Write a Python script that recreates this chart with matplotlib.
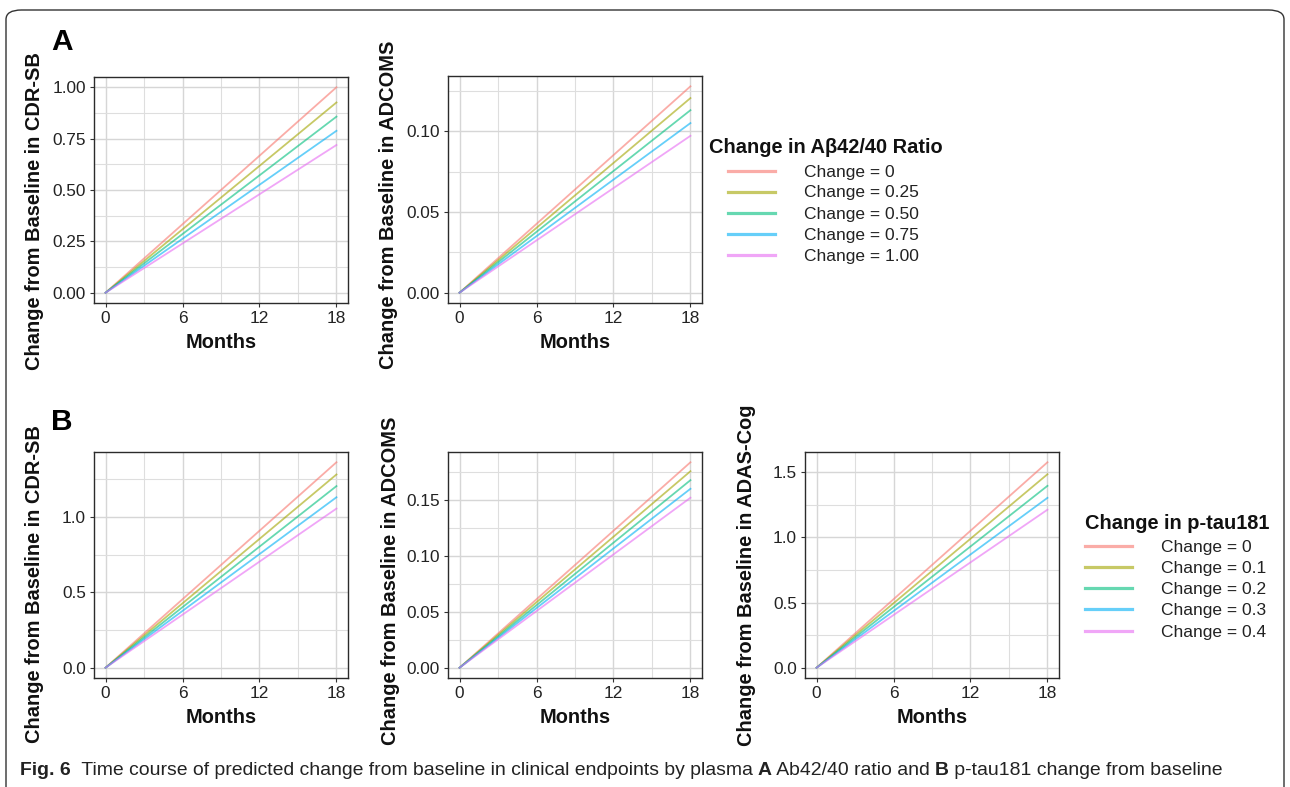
import matplotlib
matplotlib.use('Agg')
import matplotlib.pyplot as plt
from matplotlib.lines import Line2D
from matplotlib.patches import FancyBboxPatch
from matplotlib import font_manager

plt.rcParams['font.family'] = ['Liberation Sans', 'DejaVu Sans']

# ---------------- data ----------------
months = [0, 18]
x_ticks = [0, 6, 12, 18]
ab_labels = ['Change = 0', 'Change = 0.25', 'Change = 0.50', 'Change = 0.75', 'Change = 1.00']
ptau_labels = ['Change = 0', 'Change = 0.1', 'Change = 0.2', 'Change = 0.3', 'Change = 0.4']
# predicted change at month 18 (starts at 0 at month 0)
ab_cdrsb_18 = [1.000, 0.926, 0.857, 0.788, 0.719]
ab_adcoms_18 = [0.128, 0.1207, 0.1132, 0.1052, 0.0973]
pt_cdrsb_18 = [1.362, 1.281, 1.204, 1.130, 1.055]
pt_adcoms_18 = [0.1837, 0.1757, 0.1677, 0.1600, 0.1520]
pt_adascog_18 = [1.577, 1.485, 1.396, 1.304, 1.213]
colors = ['#F8766D', '#A3A500', '#00BF7D', '#00B0F6', '#E76BF3']

W, H = 1290, 787
fig = plt.figure(figsize=(W / 100, H / 100), dpi=100)
fig.patch.set_facecolor('white')

def fx(x):
    return x / W

def fy(y):
    return 1 - y / H

def panel(rect, endvals, yticks, yminor, fmt, ylabel, ylab_xy):
    x0, y0, x1, y1 = rect
    ax = fig.add_axes([fx(x0), fy(y1), (x1 - x0) / W, (y1 - y0) / H])
    for v, c in zip(endvals, colors):
        ax.plot(months, [0, v], color=c, alpha=0.6, lw=1.3, zorder=3)
    top = max(endvals)
    ax.set_xlim(-0.9, 18.9)
    ax.set_ylim(-0.05 * top, 1.05 * top)
    ax.set_xticks(x_ticks)
    ax.set_xticks([3, 9, 15], minor=True)
    ax.set_yticks(yticks)
    ax.set_yticks(yminor, minor=True)
    ax.set_yticklabels([fmt.format(t) for t in yticks])
    ax.grid(True, which='major', color='#D6D6D6', lw=1.0)
    ax.grid(True, which='minor', color='#DEDEDE', lw=0.8)
    ax.set_axisbelow(True)
    ax.tick_params(which='major', length=3.2, width=0.8, color='#333333',
                   labelsize=12.4, labelcolor='#222222')
    ax.tick_params(axis='x', which='major', pad=2.5)
    ax.tick_params(axis='y', which='major', pad=2.5)
    ax.tick_params(which='minor', length=0)
    for s in ax.spines.values():
        s.set_color('#2b2b2b')
        s.set_linewidth(1.0)
    ax.set_xlabel('Months', fontsize=14.4, fontweight='bold', labelpad=5.0, color='#111111')
    fig.text(fx(ylab_xy[0]), fy(ylab_xy[1]), ylabel, rotation=90, ha='center', va='center',
             fontsize=14.4, fontweight='bold', color='#111111')
    return ax

panel((94, 77, 348, 303), ab_cdrsb_18, [0, 0.25, 0.5, 0.75, 1.0],
      [0.125, 0.375, 0.625, 0.875], '{:.2f}', 'Change from Baseline in CDR-SB', (35, 211))
panel((448, 76, 702, 303), ab_adcoms_18, [0, 0.05, 0.10],
      [0.025, 0.075, 0.125], '{:.2f}', 'Change from Baseline in ADCOMS', (389, 205))
panel((94, 452, 348, 678), pt_cdrsb_18, [0, 0.5, 1.0],
      [0.25, 0.75, 1.25], '{:.1f}', 'Change from Baseline in CDR-SB', (35, 584))
panel((448, 452, 702, 678), pt_adcoms_18, [0, 0.05, 0.10, 0.15],
      [0.025, 0.075, 0.125, 0.175], '{:.2f}', 'Change from Baseline in ADCOMS', (390, 581))
panel((805, 452, 1059, 678), pt_adascog_18, [0, 0.5, 1.0, 1.5],
      [0.25, 0.75, 1.25], '{:.1f}', 'Change from Baseline in ADAS-Cog', (746, 575))

# panel letters
fig.text(fx(51), fy(50), 'A', fontsize=21.5, fontweight='bold', ha='left', va='baseline')
fig.text(fx(51), fy(430), 'B', fontsize=21.5, fontweight='bold', ha='left', va='baseline')

# legends
def legend(title, labels, title_xy, line_x0, line_x1, ys, text_x):
    fig.text(fx(title_xy[0]), fy(title_xy[1]), title, fontsize=14.4, fontweight='bold',
             ha='left', va='baseline', color='#111111')
    for lab, c, y in zip(labels, colors, ys):
        fig.add_artist(Line2D([fx(line_x0), fx(line_x1)], [fy(y), fy(y)], color=c, alpha=0.6,
                              lw=2.3, transform=fig.transFigure))
        fig.text(fx(text_x), fy(y + 6), lab, fontsize=12.5, ha='left', va='baseline', color='#222222')

legend('Change in Aβ42/40 Ratio', ab_labels, (709, 153), 728, 775,
       [170.5, 191.5, 212.5, 234, 255], 804)
legend('Change in p-tau181', ptau_labels, (1085, 529), 1085, 1132,
       [545.7, 567, 588.3, 609.3, 630.7], 1161)

# frame
frame = FancyBboxPatch((fx(6), fy(800)), fx(1284) - fx(6), fy(10) - fy(800),
                       boxstyle='round,pad=0,rounding_size=0.012', transform=fig.transFigure,
                       fill=False, edgecolor='#333333', lw=1.0)
fig.add_artist(frame)

# caption
cap_family = ['Liberation Sans Narrow', 'Liberation Sans', 'DejaVu Sans']
avail = {f.name for f in font_manager.fontManager.ttflist}
cap_family = [f for f in cap_family if f in avail] or ['DejaVu Sans']
pieces = [('Fig. 6', 'bold'), ('  Time course of predicted change from baseline in clinical endpoints by plasma ', 'normal'),
          ('A', 'bold'), (' Ab42/40 ratio and ', 'normal'), ('B', 'bold'), (' p-tau181 change from baseline', 'normal')]

def draw_caption(size):
    arts = []
    renderer = fig.canvas.get_renderer()
    x = 20.0
    for txt, wgt in pieces:
        t = fig.text(fx(x), fy(775), txt, fontsize=size, fontweight=wgt, family=cap_family,
                     ha='left', va='baseline', color='#222222')
        bb = t.get_window_extent(renderer)
        x += bb.width
        arts.append(t)
    return arts, x

size = 13.0
arts, xend = draw_caption(size)
for a in arts:
    a.remove()
size = size * (1218 - 20) / (xend - 20)
arts, xend = draw_caption(size)

fig.savefig('out.png', dpi=100)
